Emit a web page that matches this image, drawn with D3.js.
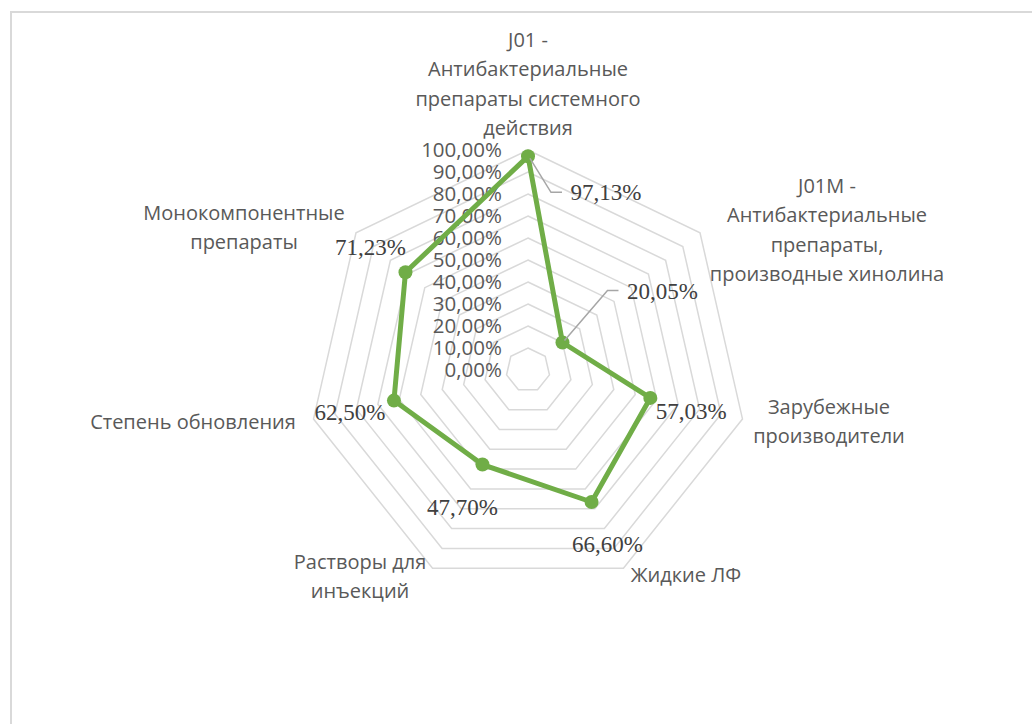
<!DOCTYPE html>
<html>
<head>
<meta charset="utf-8">
<script src="https://cdn.jsdelivr.net/npm/d3@7"></script>
<style>
  html, body { margin: 0; padding: 0; background: #fff; }
  svg { display: block; }
</style>
</head>
<body>
<svg id="chart" width="1032" height="724"></svg>
<script>
// ---- data ----
const categories = [
  ["J01 -", "Антибактериальные", "препараты системного", "действия"],
  ["J01M -", "Антибактериальные", "препараты,", "производные хинолина"],
  ["Зарубежные", "производители"],
  ["Жидкие ЛФ"],
  ["Растворы для", "инъекций"],
  ["Степень обновления"],
  ["Монокомпонентные", "препараты"]
];
const values = [97.13, 20.05, 57.03, 66.60, 47.70, 62.50, 71.23];
const valueLabels = ["97,13%", "20,05%", "57,03%", "66,60%", "47,70%", "62,50%", "71,23%"];
const ticks = [0, 10, 20, 30, 40, 50, 60, 70, 80, 90, 100];
const tickLabels = ["0,00%", "10,00%", "20,00%", "30,00%", "40,00%", "50,00%", "60,00%", "70,00%", "80,00%", "90,00%", "100,00%"];

// ---- layout ----
const cx = 528, cy = 370, R = 220;
const svg = d3.select("#chart");
const r = d3.scaleLinear().domain([0, 100]).range([0, R]);
const n = categories.length;
const angle = i => i * 2 * Math.PI / n;
const px = (i, v) => cx + r(v) * Math.sin(angle(i));
const py = (i, v) => cy - r(v) * Math.cos(angle(i));

// frame
svg.append("rect").attr("x", 11).attr("y", 12).attr("width", 1040).attr("height", 740)
  .attr("fill", "none").attr("stroke", "#d9d9d9").attr("stroke-width", 2);

// grid rings
const ringLine = d3.line();
ticks.filter(t => t > 0).forEach(t => {
  const pts = d3.range(n).map(i => [px(i, t), py(i, t)]);
  svg.append("path").attr("d", ringLine(pts) + "Z")
    .attr("fill", "none").attr("stroke", "#d9d9d9").attr("stroke-width", 1.5);
});

// tick labels
svg.append("g").selectAll("text").data(ticks).join("text")
  .attr("x", cx - 26).attr("y", t => cy - r(t))
  .attr("dy", "0.35em")
  .attr("text-anchor", "end")
  .attr("font-family", "'Open Sans', sans-serif").attr("font-size", 20.5)
  .attr("fill", "#595959")
  .text((t, i) => tickLabels[i]);

// series line
const pts = values.map((v, i) => [px(i, v), py(i, v)]);
svg.append("path").attr("d", d3.line()(pts) + "Z")
  .attr("fill", "none").attr("stroke", "#70ad47").attr("stroke-width", 5)
  .attr("stroke-linejoin", "round");
svg.append("g").selectAll("circle").data(pts).join("circle")
  .attr("cx", d => d[0]).attr("cy", d => d[1]).attr("r", 7).attr("fill", "#70ad47");

// data labels (offsets from marker, in px)
const labelOffsets = [[78, 36], [100, -52], [41, 13], [16, 42], [-20, 42], [-44, 11], [-35, -25]];
const leaders = [true, true, false, false, false, false, false];
pts.forEach((p, i) => {
  const lx = p[0] + labelOffsets[i][0], ly = p[1] + labelOffsets[i][1];
  if (leaders[i]) {
    const ex = lx - 44;
    const bx = ex - 11;
    svg.append("polyline")
      .attr("points", [[p[0] + 2, p[1] + (ly > p[1] ? 2 : -2)], [bx, ly], [ex, ly]].map(d => d.join(",")).join(" "))
      .attr("fill", "none").attr("stroke", "#a6a6a6").attr("stroke-width", 1.5);
  }
  svg.append("text").attr("x", lx).attr("y", ly).attr("dy", "0.35em")
    .attr("text-anchor", "middle")
    .attr("font-family", "'Liberation Serif', 'Times New Roman', serif").attr("font-size", 23)
    .attr("fill", "#404040")
    .text(valueLabels[i]);
});

// category labels
const catPos = [[528, 40], [827, 186], [829, 407], [686, 575], [360, 562], [193, 422], [244, 213]];
categories.forEach((lines, i) => {
  const t = svg.append("text")
    .attr("text-anchor", "middle")
    .attr("font-family", "'Open Sans', sans-serif").attr("font-size", 20)
    .attr("fill", "#595959");
  lines.forEach((ln, j) => {
    t.append("tspan").attr("x", catPos[i][0]).attr("y", catPos[i][1] + j * 29.3)
      .attr("dy", "0.35em").text(ln);
  });
});
</script>
</body>
</html>
